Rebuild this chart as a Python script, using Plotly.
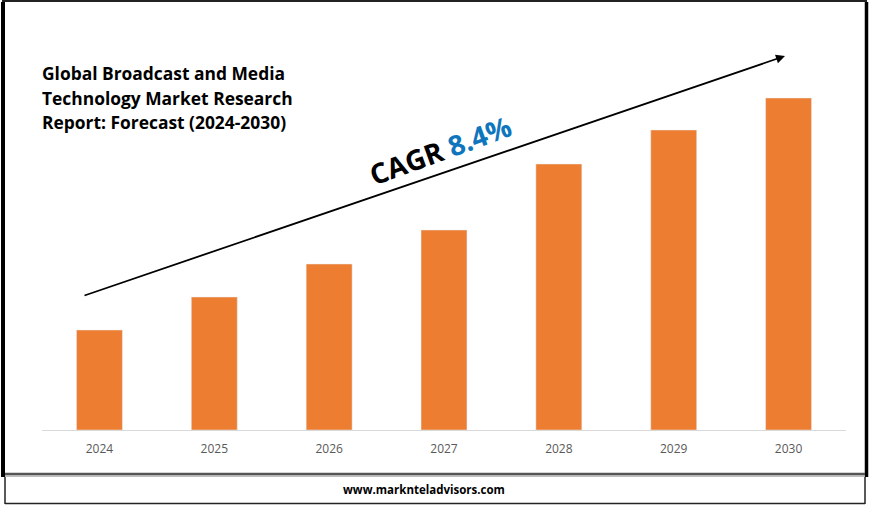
import plotly.graph_objects as go

W = 870
H = 506

# no axis values are printed so these are relative heights
years = ['2024', '2025', '2026', '2027', '2028', '2029', '2030']
market_size = [100, 133, 166, 200, 266, 300, 332]
title_lines = ['Global Broadcast and Media', 'Technology Market Research', 'Report: Forecast (2024-2030)']
title_rows = [73, 98, 122]


def px(x):
    return x / W


def py(y):
    return 1 - y / H


def frame_line(x0, y0, x1, y1, color='black', width=1.5):
    return dict(type='line', xref='paper', yref='paper',
                x0=px(x0), y0=py(y0), x1=px(x1), y1=py(y1),
                line=dict(color=color, width=width), layer='above')


fig = go.Figure(go.Bar(x=years, y=market_size, marker_color='#ED7D31', width=0.4))

# outer frame and the footer box below it
shapes = [
    frame_line(3, 2, 3, 477, width=4),
    frame_line(2, 1, 867, 1, color='#222222', width=2),
    frame_line(866.5, 2, 866.5, 477, width=3.5),
    frame_line(5, 474, 865, 474, color='#555555', width=2.5),
    frame_line(5, 476, 865, 476, color='#aaaaaa', width=1.5),
    frame_line(5, 477, 5, 504, color='#222222', width=1.5),
    frame_line(865, 477, 865, 504, color='#222222', width=1.5),
    frame_line(5, 503.5, 865, 503.5, color='#222222', width=1.5),
]

annotations = [
    dict(text=line, x=px(39.5), y=py(row), xref='paper', yref='paper',
         xanchor='left', yanchor='middle', showarrow=False,
         font=dict(family='Open Sans', size=17.4, color='black', weight='bold'))
    for line, row in zip(title_lines, title_rows)
]
annotations += [
    dict(text='CAGR <span style="color:#0F75BD">8.4%</span>',
         x=px(440), y=py(150), xref='paper', yref='paper', xanchor='center', yanchor='middle',
         textangle=-20, showarrow=False,
         font=dict(family='Open Sans', size=28, color='black', weight='bold')),
    dict(text='www.marknteladvisors.com',
         x=px(424), y=py(489), xref='paper', yref='paper', xanchor='center', yanchor='middle',
         showarrow=False,
         font=dict(family='Open Sans', size=11.5, color='black', weight='bold')),
    # growth arrow
    dict(text='', x=px(785), y=py(56), xref='paper', yref='paper',
         ax=-702, ay=240, axref='pixel', ayref='pixel',
         showarrow=True, arrowhead=2, arrowsize=1, arrowwidth=1.8, arrowcolor='black'),
]

fig.update_layout(
    width=W, height=H,
    margin=dict(l=0, r=0, t=0, b=0),
    paper_bgcolor='white',
    plot_bgcolor='white',
    showlegend=False,
    shapes=shapes,
    annotations=annotations,
    xaxis=dict(domain=[px(42), px(846)], showline=True, linecolor='#D9D9D9', linewidth=1,
               showgrid=False, ticks='', ticklabelstandoff=8,
               tickfont=dict(family='Open Sans', size=12, color='#595959')),
    yaxis=dict(domain=[py(430), 1], range=[0, 430], visible=False),
)

# page has a default body margin that would push the figure out of the window
fig.write_html("out.html", config={'displayModeBar': False},
               post_script="document.body.style.margin='0';document.body.style.overflow='hidden';")
